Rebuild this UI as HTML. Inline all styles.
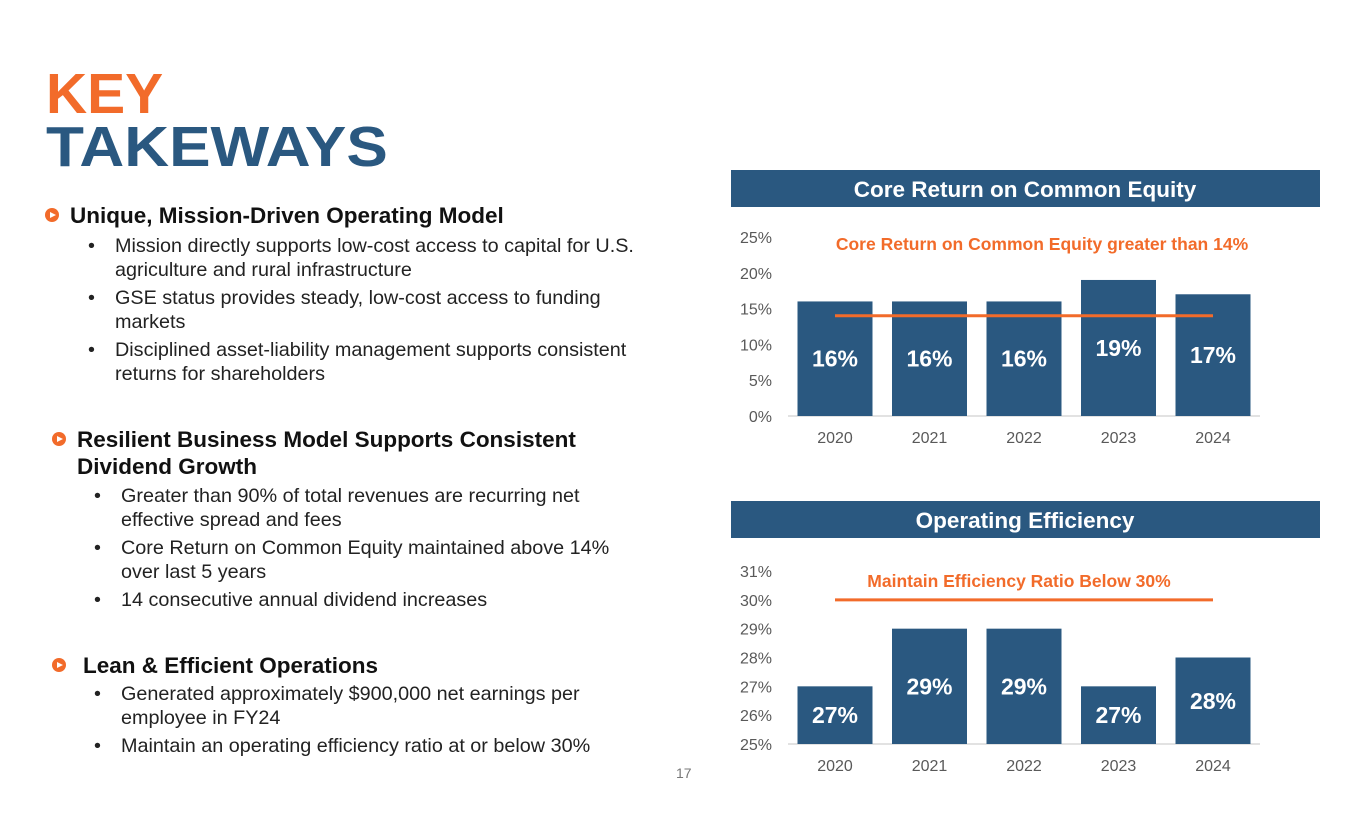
<!DOCTYPE html>
<html><head><meta charset="utf-8">
<style>
html,body{margin:0;padding:0;background:#fff;}
body{width:1365px;height:829px;position:relative;overflow:hidden;font-family:"Liberation Sans",Arial,sans-serif;}
.abs{position:absolute;}
.title{font-weight:bold;font-size:57px;line-height:57px;transform:scaleX(1.09);transform-origin:left top;}
.h{font-weight:bold;font-size:22.5px;color:#111;line-height:27px;white-space:nowrap;}
.b{font-size:19.8px;color:#222;line-height:24px;white-space:nowrap;}
.icon{width:14px;height:14px;border-radius:50%;background:#F26B2A;}
.icon:after{content:"";position:absolute;left:5px;top:3.5px;border-left:6px solid #fff;border-top:3.5px solid transparent;border-bottom:3.5px solid transparent;}
.bul{position:absolute;}
.bul:before{content:"•";position:absolute;left:-27px;}
</style></head><body>
<div class="abs title" style="left:46px;top:66px;color:#F26B2A;transform:scaleX(1.0);">KEY</div>
<div class="abs title" style="left:46px;top:119px;color:#2A5880;">TAKEWAYS</div>

<div class="abs icon" style="left:45px;top:208px;"></div>
<div class="abs h" style="left:70px;top:202px;">Unique, Mission-Driven Operating Model</div>
<div class="b bul" style="left:115px;top:234px;">Mission directly supports low-cost access to capital for U.S.<br>agriculture and rural infrastructure</div>
<div class="b bul" style="left:115px;top:286px;">GSE status provides steady, low-cost access to funding<br>markets</div>
<div class="b bul" style="left:115px;top:338px;">Disciplined asset-liability management supports consistent<br>returns for shareholders</div>

<div class="abs icon" style="left:52px;top:432px;"></div>
<div class="abs h" style="left:77px;top:426px;">Resilient Business Model Supports Consistent<br>Dividend Growth</div>
<div class="b bul" style="left:121px;top:484px;">Greater than 90% of total revenues are recurring net<br>effective spread and fees</div>
<div class="b bul" style="left:121px;top:536px;">Core Return on Common Equity maintained above 14%<br>over last 5 years</div>
<div class="b bul" style="left:121px;top:588px;">14 consecutive annual dividend increases</div>

<div class="abs icon" style="left:52px;top:658px;"></div>
<div class="abs h" style="left:83px;top:652px;">Lean &amp; Efficient Operations</div>
<div class="b bul" style="left:121px;top:682px;">Generated approximately $900,000 net earnings per<br>employee in FY24</div>
<div class="b bul" style="left:121px;top:734px;">Maintain an operating efficiency ratio at or below 30%</div>
<div class="abs" style="left:676px;top:765px;font-size:14px;color:#777;">17</div>

<svg class="abs" style="left:0;top:0" width="1365" height="829" id="charts"></svg>
<script>
const years = ["2020","2021","2022","2023","2024"];
const roeValues = [16,16,16,19,17];
const roeTicks = [0,5,10,15,20,25];
const roeTarget = 14;
const effValues = [27,29,29,27,28];
const effTicks = [25,26,27,28,29,30,31];
const effTarget = 30;

const NS="http://www.w3.org/2000/svg";
const svg=document.getElementById('charts');
function mk(tag,attrs,parent){const e=document.createElementNS(NS,tag);for(const k in attrs)e.setAttribute(k,attrs[k]);(parent||svg).appendChild(e);return e;}
function chart(cfg){
  const g=mk('g',{});
  
  
  const hdr=mk('rect',{x:731,y:cfg.hy,width:589,height:37,fill:'#2A5880'},g);
  
  
  const ht=mk('text',{x:1025,y:cfg.hy+27,'text-anchor':'middle',fill:'#fff','font-size':22.5,'font-weight':'bold','font-family':'Liberation Sans, sans-serif'},g);
  ht.textContent=cfg.title;
  
  
  const y=v=>cfg.y0-(v-cfg.min)/(cfg.max-cfg.min)*(cfg.y0-cfg.y1);
  const x=i=>835+i*94.5;
  cfg.ticks.forEach(t=>{
    const tt=mk('text',{x:772,y:y(t)+6,'text-anchor':'end',fill:'#595959','font-size':16,'font-family':'Liberation Sans, sans-serif'},g);
    tt.textContent=t+'%';
    
    
  });
  const ax=mk('line',{x1:788,x2:1260,y1:cfg.y0,y2:cfg.y0,stroke:'#D9D9D9','stroke-width':1.5},g);
  
  
  cfg.values.forEach((v,i)=>{
    const r=mk('rect',{x:x(i)-37.5,y:y(v),width:75,height:cfg.y0-y(v),fill:'#2A5880'},g);
    
    
    const lt=mk('text',{x:x(i),y:(y(v)+cfg.y0)/2+8,'text-anchor':'middle',fill:'#fff','font-size':23,'font-weight':'bold','font-family':'Liberation Sans, sans-serif'},g);
    lt.textContent=v+'%';
    
    
    const xt=mk('text',{x:x(i),y:cfg.y0+27,'text-anchor':'middle',fill:'#595959','font-size':16,'font-family':'Liberation Sans, sans-serif'},g);
    xt.textContent=years[i];
    
    
  });
  const tl=mk('line',{x1:x(0),x2:x(4),y1:y(cfg.target),y2:y(cfg.target),stroke:'#F26B2A','stroke-width':3},g);
  
  
  const an=mk('text',{x:cfg.ax,y:cfg.ay,'text-anchor':'middle',fill:'#F26B2A','font-size':17.5,'font-weight':'bold','font-family':'Liberation Sans, sans-serif'},g);
  an.textContent=cfg.note;
  
  
}
chart({name:'core-roe-chart',title:'Core Return on Common Equity',hy:170,values:roeValues,ticks:roeTicks,min:0,max:25,y0:416,y1:237,target:roeTarget,note:'Core Return on Common Equity greater than 14%',ax:1042,ay:250});
chart({name:'operating-efficiency-chart',title:'Operating Efficiency',hy:501,values:effValues,ticks:effTicks,min:25,max:31,y0:744,y1:571,target:effTarget,note:'Maintain Efficiency Ratio Below 30%',ax:1019,ay:587});
</script>
</body></html>
